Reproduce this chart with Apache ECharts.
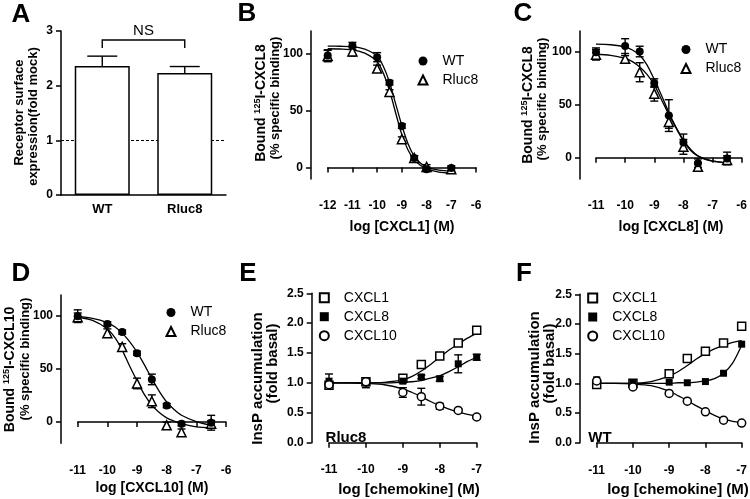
<!DOCTYPE html>
<html><head><meta charset="utf-8">
<script src="https://cdn.jsdelivr.net/npm/echarts@6/dist/echarts.min.js"></script>
<style>html,body{margin:0;padding:0;background:#fff}#c{width:750px;height:499px}</style>
</head><body><div id="c"></div>
<script>
// ---------- Panel A ----------
const aCats = ['WT', 'Rluc8'];
const aMeans = [2.36, 2.23];
const aErr = [0.18, 0.12];
const aDashed = 1;
const aBracket = [2.69, 2.835];
// ---------- Panel B ----------
const bX = [-12, -11, -10, -9.5, -9, -8.5, -8, -7];
const bWT = [98.5, 107, 97, 74.6, 36.5, 8.5, -1.5, -0.3];
const bWTErr = [5, 3, 4, 2, 2, 2, 2, 2];
const bRl = [98, 102, 87, 66.4, 25, 8.5, 0.6, -1.5];
const bRlErr = [5, 4, 3, 2, 2, 2, 2, 2];
const bFitX = [-12, -11.5, -11, -10.5, -10, -9.75, -9.5, -9.25, -9, -8.75, -8.5, -8.25, -8, -7.5, -7];
const bFitWT = [106.7, 106.6, 106.3, 104, 98, 89, 75, 56, 37, 21, 10, 4, 0.5, -2.3, -3.2];
const bFitRl = [104.4, 104.2, 103.5, 100.5, 93, 83, 68, 48, 29, 15.5, 7, 2, -1.2, -4, -5];
// ---------- Panel C ----------
const cX = [-11, -10, -9.5, -9, -8.5, -8, -7.5, -6.5];
const cWT = [100, 105.7, 100.6, 70.8, 40, 14.5, -5, -0.6];
const cWTErr = [4, 7, 5, 4, 15, 8, 4, 6];
const cRl = [97.5, 93.7, 81, 60.7, 34, 10.4, -8.5, -2];
const cRlErr = [5, 3, 9, 7, 6, 7, 4, 4];
const cFitX = [-11, -10.5, -10, -9.75, -9.5, -9.25, -9, -8.75, -8.5, -8.25, -8, -7.75, -7.5, -7.25, -7, -6.5];
const cFitWT = [107.5, 107, 105, 102, 97, 88, 74, 59, 43, 29, 17, 8, 2, -1, -3, -4.5];
const cFitRl = [98, 97, 94, 91, 86, 79, 69, 55, 41, 28, 16, 7, 1.5, -1.5, -3, -4.5];
// ---------- Panel D ----------
const dX = [-11, -10, -9.5, -9, -8.5, -8, -7.5, -6.5];
const dWT = [100, 92.7, 85, 65, 40.3, 15.6, -1.6, -0.6];
const dWTErr = [6, 2, 2, 2, 5, 2, 2, 7];
const dRl = [99, 84, 71, 36.5, 19.7, -3, -9.5, -1.5];
const dRlErr = [4, 4, 3, 5, 6, 3, 3, 3];
const dFitX = [-11, -10.5, -10, -9.75, -9.5, -9.25, -9, -8.75, -8.5, -8.25, -8, -7.75, -7.5, -7, -6.5];
const dFitWT = [99.5, 98, 94, 90, 84, 76, 66, 54, 41, 29, 19, 12, 6.5, 0.5, -3];
const dFitRl = [99, 96, 88, 80, 68, 53, 39, 26, 16, 9, 4, 1, -1.5, -4.5, -5.5];
// ---------- Panel E (Rluc8) ----------
const eX = [-11, -10, -9, -8.5, -8, -7.5, -7];
const eC1 = [0.96, 1.02, 1.08, 1.31, 1.45, 1.67, 1.88];
const eC1Err = [0.04, 0.04, 0.03, 0.03, 0.03, 0.03, 0.06];
const eC8 = [1.03, 1.0, 1.03, 1.10, 1.07, 1.32, 1.43];
const eC8Err = [0.12, 0.08, 0.03, 0.03, 0.04, 0.15, 0.05];
const eC10 = [0.97, 1.02, 0.84, 0.77, 0.61, 0.54, 0.43];
const eC10Err = [0.04, 0.03, 0.08, 0.14, 0.05, 0.03, 0.03];
const eFitX = [-11, -10.5, -10, -9.5, -9, -8.75, -8.5, -8.25, -8, -7.75, -7.5, -7.25, -7];
const eFitC1 = [1.0, 1.0, 1.0, 1.01, 1.05, 1.11, 1.2, 1.31, 1.43, 1.55, 1.65, 1.75, 1.83];
const eFitC8 = [1.0, 1.0, 1.0, 1.0, 1.01, 1.02, 1.04, 1.08, 1.12, 1.19, 1.27, 1.36, 1.43];
const eFitC10 = [1.0, 1.0, 0.99, 0.97, 0.9, 0.84, 0.77, 0.69, 0.62, 0.56, 0.51, 0.475, 0.45];
// ---------- Panel F (WT) ----------
const fX = [-11, -10, -9, -8.5, -8, -7.5, -7];
const fC1 = [0.98, 1.0, 1.16, 1.42, 1.54, 1.68, 1.96];
const fC8 = [1.06, 1.0, 1.02, 1.01, 1.03, 1.17, 1.66];
const fC10 = [1.04, 0.94, 0.83, 0.70, 0.52, 0.38, 0.33];
const fFitX = [-11, -10.5, -10, -9.5, -9, -8.75, -8.5, -8.25, -8, -7.75, -7.5, -7.25, -7];
const fFitC1 = [1.0, 1.0, 1.0, 1.03, 1.12, 1.2, 1.3, 1.41, 1.5, 1.58, 1.64, 1.69, 1.72];
const fFitC8 = [1.0, 1.0, 1.0, 1.0, 1.0, 1.01, 1.01, 1.02, 1.04, 1.08, 1.17, 1.34, 1.64];
const fFitC10 = [1.0, 1.0, 0.99, 0.96, 0.87, 0.79, 0.71, 0.62, 0.54, 0.46, 0.40, 0.36, 0.34];
// tick values
const bindTicks = [0, 50, 100];

const FONT = "'Liberation Sans', Arial, Helvetica, sans-serif";
const chart = echarts.init(document.getElementById('c'), null, {renderer: 'canvas'});

const LW = 1.5;
const axisLine = {show: true, lineStyle: {color: '#000', width: LW}};
const axisTick = {show: true, length: 5, lineStyle: {color: '#000', width: LW}};
const tickLabel = {color: '#000', fontFamily: FONT, fontWeight: 'bold', fontSize: 12};

const grids = [
  {left: 61, top: 31, width: 165, height: 164},
  {left: 327.7, top: 31, width: 148.3, height: 148},
  {left: 596, top: 31, width: 149, height: 148},
  {left: 77.7, top: 295, width: 148.3, height: 148.3},
  {left: 329, top: 293.3, width: 147.7, height: 149.4},
  {left: 596.7, top: 294.3, width: 148.3, height: 148.4}
];

function valX(g, min, max, off) {
  return {type: 'value', gridIndex: g, min: min, max: max, interval: 1, offset: off,
    axisLine: axisLine, axisTick: axisTick, splitLine: {show: false},
    axisLabel: Object.assign({margin: 5}, tickLabel)};
}
function bindY(g, min, off) {
  return {type: 'value', gridIndex: g, min: min, max: 120, offset: off,
    axisLine: axisLine, splitLine: {show: false},
    axisTick: Object.assign({customValues: bindTicks}, axisTick),
    axisLabel: Object.assign({margin: 8, customValues: bindTicks}, tickLabel)};
}
function insY(g, off) {
  return {type: 'value', gridIndex: g, min: 0, max: 2.5, interval: 0.5, offset: off,
    axisLine: axisLine, axisTick: axisTick, splitLine: {show: false},
    axisLabel: Object.assign({margin: 8, formatter: v => v.toFixed(1)}, tickLabel)};
}

const xAxes = [
  {type: 'category', gridIndex: 0, data: aCats, axisLine: axisLine, axisTick: {show: false},
   axisLabel: Object.assign({margin: 8}, tickLabel, {fontSize: 13})},
  valX(1, -12, -6, 16),
  valX(2, -11, -6, 16),
  valX(3, -11, -6, 16.7),
  valX(4, -11, -7, 16.3),
  valX(5, -11, -7, 16.6)
];
const yAxes = [
  {type: 'value', gridIndex: 0, min: 0, max: 3, interval: 1, axisLine: axisLine, axisTick: axisTick,
   splitLine: {show: false}, axisLabel: Object.assign({margin: 8}, tickLabel)},
  bindY(1, -10, 16.7),
  bindY(2, -20, 16),
  bindY(3, -20, 16.7),
  insY(4, 17.3),
  insY(5, 16.7)
];

function zip(xs, ys) { return xs.map((x, i) => [x, ys[i]]); }

const STY = {
  filledCircle: {symbol: 'circle', symbolSize: 8, itemStyle: {color: '#000', borderColor: '#000', borderWidth: 0, opacity: 1}},
  openTri: {symbol: 'triangle', symbolSize: 9, itemStyle: {color: '#fff', borderColor: '#000', borderWidth: 1.5, opacity: 1}},
  openSq: {symbol: 'rect', symbolSize: 8, itemStyle: {color: '#fff', borderColor: '#000', borderWidth: 1.5, opacity: 1}},
  filledSq: {symbol: 'rect', symbolSize: 7, itemStyle: {color: '#000', borderColor: '#000', borderWidth: 0, opacity: 1}},
  openCircle: {symbol: 'circle', symbolSize: 8, itemStyle: {color: '#fff', borderColor: '#000', borderWidth: 1.5, opacity: 1}}
};

function scatter(g, name, xs, ys, sty) {
  return Object.assign({type: 'scatter', name: name, xAxisIndex: g, yAxisIndex: g, z: 5,
    data: zip(xs, ys), silent: true}, JSON.parse(JSON.stringify(sty)));
}
function fit(g, xs, ys) {
  return {type: 'line', name: 'fit', xAxisIndex: g, yAxisIndex: g, z: 3, data: zip(xs, ys),
    smooth: 0.3, showSymbol: false, symbol: 'none', silent: true,
    lineStyle: {color: '#000', width: 1.3}};
}
function errRender(capW, upOnly) {
  return function (params, api) {
    const x = api.value(0), lo = api.value(1), hi = api.value(2);
    const p1 = api.coord([x, lo]), p2 = api.coord([x, hi]);
    const st = {stroke: '#000', lineWidth: 1.4};
    const ch = [
      {type: 'line', shape: {x1: p1[0], y1: p1[1], x2: p2[0], y2: p2[1]}, style: st},
      {type: 'line', shape: {x1: p2[0] - capW / 2, y1: p2[1], x2: p2[0] + capW / 2, y2: p2[1]}, style: st}
    ];
    if (!upOnly) ch.push({type: 'line', shape: {x1: p1[0] - capW / 2, y1: p1[1], x2: p1[0] + capW / 2, y2: p1[1]}, style: st});
    return {type: 'group', children: ch};
  };
}
function errs(g, xs, ys, es) {
  return {type: 'custom', name: 'err', xAxisIndex: g, yAxisIndex: g, z: 4, silent: true,
    renderItem: errRender(8, false),
    data: xs.map((x, i) => [x, ys[i] - es[i], ys[i] + es[i]])};
}

const series = [];
// A
series.push({type: 'bar', name: 'expr', xAxisIndex: 0, yAxisIndex: 0, data: aMeans, barWidth: 55, z: 3, silent: true,
  itemStyle: {color: '#fff', borderColor: '#000', borderWidth: 1.5},
  markLine: {silent: true, symbol: 'none', label: {show: false}, z: 2,
    lineStyle: {type: [3, 2], color: '#000', width: 1}, data: [{yAxis: aDashed}]}});
series.push({type: 'custom', name: 'errA', xAxisIndex: 0, yAxisIndex: 0, z: 4, silent: true,
  renderItem: errRender(30, true), data: aCats.map((c, i) => [i, aMeans[i], aMeans[i] + aErr[i]])});
series.push({type: 'custom', name: 'ns', xAxisIndex: 0, yAxisIndex: 0, z: 4, silent: true,
  data: [[0, 1, aBracket[0], aBracket[1]]],
  renderItem: function (params, api) {
    const l0 = api.coord([api.value(0), api.value(2)]);
    const t0 = api.coord([api.value(0), api.value(3)]);
    const l1 = api.coord([api.value(1), api.value(2)]);
    const t1 = api.coord([api.value(1), api.value(3)]);
    return {type: 'group', children: [
      {type: 'polyline', shape: {points: [l0, t0, t1, l1]}, style: {stroke: '#000', lineWidth: 1.4, fill: null}},
      {type: 'text', style: {text: 'NS', x: (t0[0] + t1[0]) / 2, y: t0[1] - 9.5, align: 'center', verticalAlign: 'middle',
        font: "15px " + FONT, fill: '#000'}}
    ]};
  }});
// B
series.push(fit(1, bFitX, bFitWT), fit(1, bFitX, bFitRl));
series.push(errs(1, bX, bWT, bWTErr), errs(1, bX, bRl, bRlErr));
series.push(scatter(1, 'Rluc8', bX, bRl, STY.openTri), scatter(1, 'WT', bX, bWT, STY.filledCircle));
// C
series.push(fit(2, cFitX, cFitWT), fit(2, cFitX, cFitRl));
series.push(errs(2, cX, cWT, cWTErr), errs(2, cX, cRl, cRlErr));
series.push(scatter(2, 'Rluc8', cX, cRl, STY.openTri), scatter(2, 'WT', cX, cWT, STY.filledCircle));
// D
series.push(fit(3, dFitX, dFitWT), fit(3, dFitX, dFitRl));
series.push(errs(3, dX, dWT, dWTErr), errs(3, dX, dRl, dRlErr));
series.push(scatter(3, 'Rluc8', dX, dRl, STY.openTri), scatter(3, 'WT', dX, dWT, STY.filledCircle));
// E
series.push(fit(4, eFitX, eFitC1), fit(4, eFitX, eFitC8), fit(4, eFitX, eFitC10));
series.push(errs(4, eX, eC1, eC1Err), errs(4, eX, eC8, eC8Err), errs(4, eX, eC10, eC10Err));
series.push(scatter(4, 'CXCL1', eX, eC1, STY.openSq), scatter(4, 'CXCL8', eX, eC8, STY.filledSq), scatter(4, 'CXCL10', eX, eC10, STY.openCircle));
// F
series.push(fit(5, fFitX, fFitC1), fit(5, fFitX, fFitC8), fit(5, fFitX, fFitC10));
series.push(scatter(5, 'CXCL1', fX, fC1, STY.openSq), scatter(5, 'CXCL8', fX, fC8, STY.filledSq), scatter(5, 'CXCL10', fX, fC10, STY.openCircle));

function legend(names, left, top) {
  return {data: names, left: left, top: top, orient: 'vertical', itemWidth: 9, itemHeight: 9, itemGap: 5,
    selectedMode: false, padding: 0,
    textStyle: {color: '#000', fontFamily: FONT, fontSize: 14, lineHeight: 14, padding: [0, 0, 0, 10]}};
}
const legends = [
  legend(['WT', 'Rluc8'], 417.5, 54),
  legend(['WT', 'Rluc8'], 680.5, 42.5),
  legend(['WT', 'Rluc8'], 165.5, 305.5),
  legend(['CXCL1', 'CXCL8', 'CXCL10'], 318.8, 290.7),
  legend(['CXCL1', 'CXCL8', 'CXCL10'], 587.2, 291)
];

function txt(t, x, y, size, weight, rot) {
  return {type: 'text', x: x, y: y, rotation: rot || 0, silent: true,
    style: {text: t, align: 'center', verticalAlign: 'middle', fill: '#000',
      font: (weight || 'bold') + ' ' + size + 'px ' + FONT}};
}
function supTxt(pre, sup, post, x, y, size) {
  return {type: 'text', x: x, y: y, rotation: Math.PI / 2, silent: true,
    style: {text: pre + '{s|' + sup + '}' + post, align: 'center', verticalAlign: 'middle', fill: '#000',
      font: 'bold ' + size + 'px ' + FONT,
      rich: {s: {fontSize: 9, fontWeight: 'bold', fontFamily: FONT, verticalAlign: 'top', padding: [0, 0, 6, 0], fill: '#000'}}}};
}
const R = Math.PI / 2;
const graphics = [
  txt('A', 21, 15, 26), txt('B', 247, 14, 26), txt('C', 523, 14, 26),
  txt('D', 21, 274, 26), txt('E', 248, 274, 26), txt('F', 524, 274, 26),
  txt('Receptor surface', 19, 112.5, 13, 'bold', R), txt('expression(fold mock)', 33, 116.5, 13, 'bold', R),
  supTxt('Bound ', '125', 'I-CXCL8', 261, 103, 14), txt('(% specific binding)', 275, 98, 13, 'bold', R),
  supTxt('Bound ', '125', 'I-CXCL8', 528, 105, 14), txt('(% specific binding)', 542.5, 99, 13, 'bold', R),
  supTxt('Bound ', '125', 'I-CXCL10', 10, 369.5, 14), txt('(% specific binding)', 25, 359, 13, 'bold', R),
  txt('InsP accumulation', 257.5, 378.5, 15, 'bold', R), txt('(fold basal)', 273, 363.5, 15, 'bold', R),
  txt('InsP accumulation', 535, 377.5, 15, 'bold', R), txt('(fold basal)', 550, 363.5, 15, 'bold', R),
  txt('log [CXCL1] (M)', 402, 227, 14), txt('log [CXCL8] (M)', 671, 227, 14),
  txt('log [CXCL10] (M)', 152, 488, 14),
  txt('log [chemokine] (M)', 409, 490, 15), txt('log [chemokine] (M)', 678, 490, 15),
  txt('Rluc8', 346, 437.5, 15), txt('WT', 600, 438, 15)
];

chart.setOption({
  animation: false,
  backgroundColor: '#fff',
  textStyle: {fontFamily: FONT},
  grid: grids,
  xAxis: xAxes,
  yAxis: yAxes,
  legend: legends,
  series: series,
  graphic: graphics
});
</script></body></html>
